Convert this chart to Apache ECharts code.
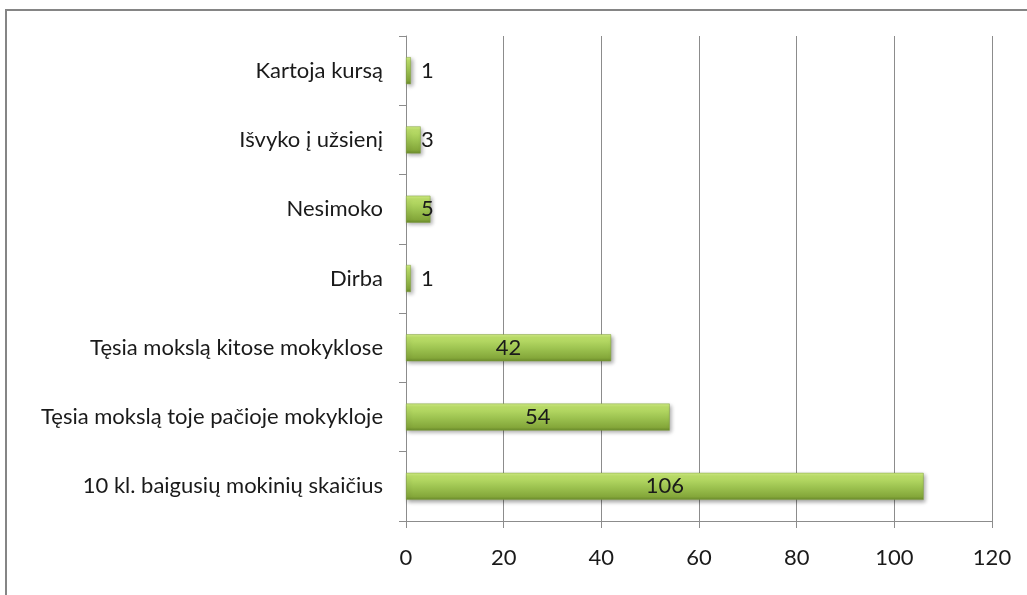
<!DOCTYPE html>
<html>
<head>
<meta charset="utf-8">
<script src="https://cdn.jsdelivr.net/npm/echarts@6/dist/echarts.min.js"></script>
<style>
html,body{margin:0;padding:0;background:#fff;overflow:hidden;}
#chart{position:absolute;left:0;top:0;width:1027px;height:595px;}
#frame{position:absolute;left:5px;top:9px;width:1100px;height:700px;border:2px solid #858585;pointer-events:none;box-sizing:border-box;}
</style>
</head>
<body>
<div id="chart"></div>
<div id="frame"></div>
<script>
const categories = [
  "10 kl. baigusių mokinių skaičius",
  "Tęsia mokslą toje pačioje mokykloje",
  "Tęsia mokslą kitose mokyklose",
  "Dirba",
  "Nesimoko",
  "Išvyko į užsienį",
  "Kartoja kursą"
];
const values = [106, 54, 42, 1, 5, 3, 1];
const xTicks = [0, 20, 40, 60, 80, 100, 120];

const font = "Lato";
const fs = 22;
const chart = echarts.init(document.getElementById('chart'));
const barColor = new echarts.graphic.LinearGradient(0, 0, 0, 1, [
  {offset: 0, color: '#d3ef87'},
  {offset: 0.12, color: '#bde06a'},
  {offset: 0.5, color: '#9fc552'},
  {offset: 0.88, color: '#84a73a'},
  {offset: 1, color: '#6a8a2b'}
]);
const data = values.map(v => ({
  value: v,
  label: v < 10 ? {position: 'insideLeft', distance: 15} : {position: 'inside'}
}));
chart.setOption({
  animation: false,
  grid: {left: 406, right: 35, top: 36, bottom: 74, containLabel: false},
  xAxis: {
    type: 'value', min: xTicks[0], max: xTicks[xTicks.length - 1], interval: 20,
    axisLine: {show: true, lineStyle: {color: '#8c8c8c', width: 1}},
    axisTick: {show: true, length: 7, lineStyle: {color: '#8c8c8c'}},
    splitLine: {show: true, lineStyle: {color: '#8c8c8c', width: 1}},
    axisLabel: {fontFamily: font, fontSize: fs, color: '#1a1a1a', margin: 26}
  },
  yAxis: {
    type: 'category', data: categories,
    axisLine: {show: true, lineStyle: {color: '#8c8c8c', width: 1}},
    axisTick: {show: true, length: 7, lineStyle: {color: '#8c8c8c'}},
    axisLabel: {fontFamily: font, fontSize: fs, color: '#1a1a1a', margin: 23}
  },
  series: [{
    type: 'bar', data: data, barWidth: '39%',
    itemStyle: {
      color: barColor, borderColor: '#7f9f3c', borderWidth: 0.5,
      shadowColor: 'rgba(0,0,0,0.35)', shadowBlur: 4, shadowOffsetX: 2, shadowOffsetY: 2
    },
    label: {show: true, fontFamily: font, fontSize: fs, color: '#1a1a1a'}
  }]
});
</script>
</body>
</html>
